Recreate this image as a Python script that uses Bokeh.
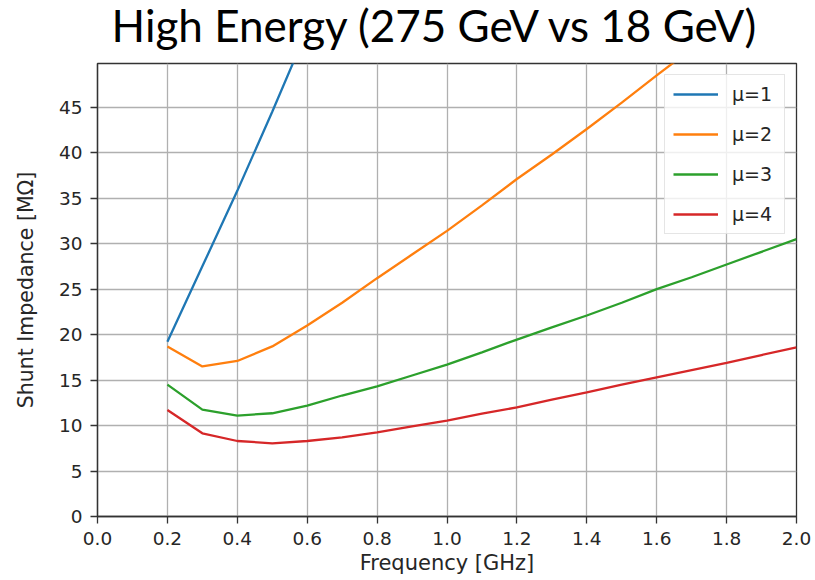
from bokeh.plotting import figure
from bokeh.layouts import column
from bokeh.models import Range1d, FixedTicker, PrintfTickFormatter, Legend, LegendItem, Label
from bokeh.embed import file_html
from bokeh.resources import INLINE

title_text = "High Energy (275 GeV vs 18 GeV)"
x_label = "Frequency [GHz]"
y_label = "Shunt Impedance [MΩ]"

freq = [0.2, 0.3, 0.4, 0.5, 0.6, 0.7, 0.8, 0.9, 1.0, 1.1,
        1.2, 1.3, 1.4, 1.5, 1.6, 1.7, 1.8, 1.9, 2.0]
mu1 = [19.2, 27.5, 35.8, 44.5, 53.5]
mu2 = [18.7, 16.5, 17.1, 18.7, 21.0, 23.5, 26.2, 28.8, 31.4, 34.2,
       37.1, 39.8, 42.6, 45.5, 48.5, 51.4]
mu3 = [14.5, 11.75, 11.1, 11.35, 12.2, 13.3, 14.3, 15.5, 16.7, 18.05,
       19.45, 20.8, 22.1, 23.5, 25.0, 26.3, 27.7, 29.1, 30.5]
mu4 = [11.7, 9.15, 8.3, 8.05, 8.3, 8.7, 9.25, 9.9, 10.55, 11.3,
       12.0, 12.85, 13.65, 14.5, 15.3, 16.1, 16.9, 17.75, 18.6]
series_labels = ["μ=1", "μ=2", "μ=3", "μ=4"]
colors = ["#1f77b4", "#ff7f0e", "#2ca02c", "#d62728"]

x_ticks = [0.0, 0.2, 0.4, 0.6, 0.8, 1.0, 1.2, 1.4, 1.6, 1.8, 2.0]
y_ticks = [0, 5, 10, 15, 20, 25, 30, 35, 40, 45]

x_range = Range1d(0, 2.0)

# --- title strip: a figure with no axes whose frame spans the same x range ---
TH = 55
tfig = figure(width=815, height=TH, output_backend="svg", toolbar_location=None,
              x_range=x_range, y_range=Range1d(0, TH),
              x_axis_type=None, y_axis_type=None,
              min_border_left=97, min_border_right=19, min_border_top=0,
              min_border_bottom=0, background_fill_color="white",
              border_fill_color="white")
tfig.title.visible = False
tfig.outline_line_color = None
tfig.xgrid.visible = False
tfig.ygrid.visible = False
tfig.add_layout(Label(x=0.968, y=31, text=title_text, text_font="Lato",
                      text_font_size="44px", text_color="black",
                      text_align="center", text_baseline="alphabetic"))

# --- main chart ---
p = figure(width=815, height=580 - TH, output_backend="svg", toolbar_location=None,
           x_range=x_range, y_range=Range1d(0, 49.8),
           min_border_left=97, min_border_right=19, min_border_bottom=64,
           min_border_top=8, background_fill_color="white",
           border_fill_color="white")

p.outline_line_color = "#333333"
p.outline_line_width = 1.3
p.outline_line_alpha = 1.0

for ax, ticks, fmt in ((p.xaxis[0], x_ticks, "%.1f"), (p.yaxis[0], y_ticks, "%d")):
    ax.ticker = FixedTicker(ticks=ticks)
    ax.formatter = PrintfTickFormatter(format=fmt)
    ax.axis_line_color = "#333333"
    ax.axis_line_width = 1.3
    ax.major_tick_line_color = "#333333"
    ax.major_tick_line_width = 1.3
    ax.major_tick_out = 7
    ax.major_tick_in = 0
    ax.minor_tick_line_color = None
    ax.major_label_text_font = "DejaVu Sans"
    ax.major_label_text_font_size = "18.5px"
    ax.major_label_text_color = "#262626"
    ax.axis_label_text_font = "DejaVu Sans"
    ax.axis_label_text_font_style = "normal"
    ax.axis_label_text_color = "#262626"

p.xaxis.axis_label = x_label
p.xaxis.axis_label_text_font_size = "21px"
p.xaxis.major_label_standoff = 8
p.xaxis.axis_label_standoff = 3
p.yaxis.axis_label = y_label
p.yaxis.axis_label_text_font_size = "20.5px"
p.yaxis.major_label_standoff = 8
p.yaxis.axis_label_standoff = 18

for g, ticks in ((p.xgrid[0], x_ticks), (p.ygrid[0], y_ticks)):
    g.ticker = FixedTicker(ticks=ticks)
    g.grid_line_color = "#b0b0b0"
    g.grid_line_width = 1.3
    g.grid_line_alpha = 1.0

data = [mu1, mu2, mu3, mu4]
items = []
for vals, lab, col in zip(data, series_labels, colors):
    r = p.line(freq[:len(vals)], vals, line_color=col, line_width=2.3)
    items.append(LegendItem(label=lab, renderers=[r]))

legend = Legend(items=items, location="top_right", margin=11, padding=8,
                spacing=18, glyph_width=45, glyph_height=20, label_height=20,
                label_width=44, label_standoff=14,
                label_text_font="DejaVu Sans", label_text_font_size="19px",
                label_text_color="#262626",
                border_line_color="#cccccc", border_line_width=1.2,
                background_fill_color="white", background_fill_alpha=0.8)
p.add_layout(legend)

layout = column(tfig, p, spacing=0)
open("out.html", "w").write(file_html(layout, INLINE))
